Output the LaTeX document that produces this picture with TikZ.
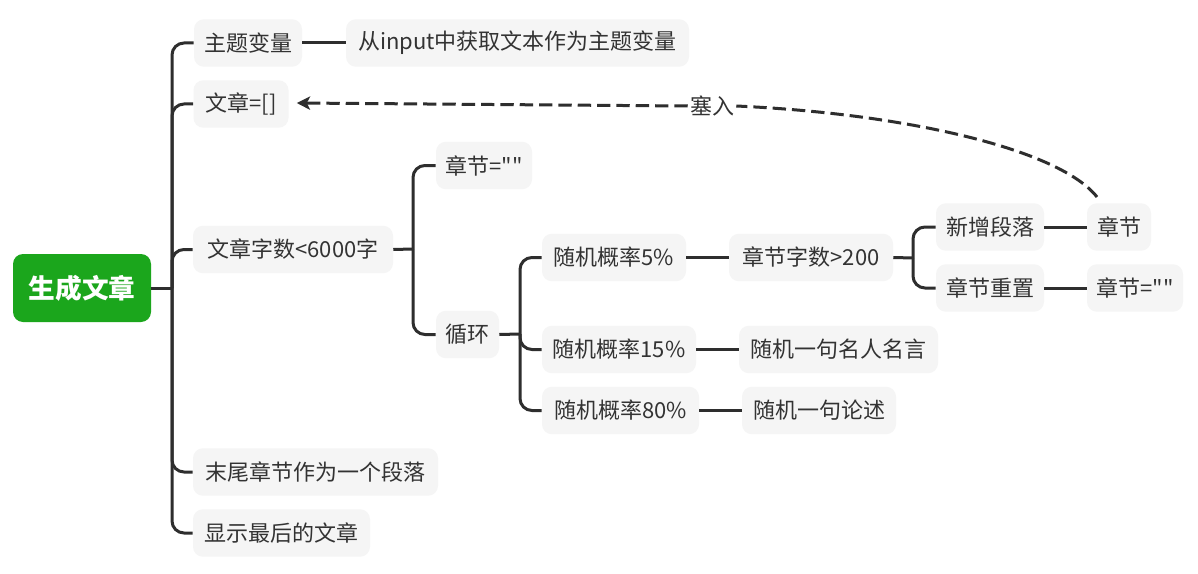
\documentclass[tikz,border=0pt]{standalone}
\usepackage{fontspec}
\newfontfamily\cjk{Noto Sans CJK SC}
\usetikzlibrary{calc,arrows.meta}
\definecolor{ln}{HTML}{2E2E2E}
\definecolor{bx}{HTML}{F5F5F5}
\definecolor{tx}{HTML}{333333}
\definecolor{gr}{HTML}{1BA61C}
\begin{document}
\begin{tikzpicture}[x=0.75pt,y=-0.75pt,
  box/.style={rectangle, rounded corners=7.5pt, fill=bx, text=tx, inner sep=0pt,
    minimum height=35.6pt, font=\cjk\fontsize{16.5}{20}\selectfont},
  bw/.style={minimum width=#1*0.75pt},
  rootbox/.style={rectangle, rounded corners=7.5pt, fill=gr, text=white, inner sep=0pt,
    font=\cjk\bfseries\fontsize{20}{24}\selectfont, minimum width=103.5pt, minimum height=51pt},
  conn/.style={draw=ln, line width=2.25pt},
  br/.style={conn, rounded corners=9pt},
  dsh/.style={draw=ln, line width=2.25pt, dash pattern=on 10pt off 4.5pt},
  lbl/.style={font=\cjk\fontsize{16.5}{20}\selectfont, text=tx, inner sep=1.5pt}
]
\useasboundingbox[fill=white] (0,0) rectangle (1198,574);

% nodes
\node[rootbox] (root) at (82,288) {生成文章};
\node[box,bw=108] (t1) at (248,43) {主题变量};
\node[box,bw=343] (t1c) at (517.5,43) {从input中获取文本作为主题变量};
\node[box,bw=95] (t2) at (241,104) {文章=[]};
\node[box,bw=200] (t3) at (293,249.5) {文章字数<6000字};
\node[box,bw=245] (t4) at (315.5,472) {末尾章节作为一个段落};
\node[box,bw=177] (t5) at (281.5,533) {显示最后的文章};
\node[box,bw=96] (c1) at (484,165.5) {章节=""};
\node[box,bw=63] (c2) at (467.5,334.5) {循环};
\node[box,bw=144] (r1) at (614,257.5) {随机概率5\%};
\node[box,bw=164] (r1c) at (811,257.5) {章节字数>200};
\node[box,bw=154] (r2) at (619,349.5) {随机概率15\%};
\node[box,bw=199] (r2c) at (838.5,349.5) {随机一句名人名言};
\node[box,bw=157] (r3) at (620.5,410.5) {随机概率80\%};
\node[box,bw=154] (r3c) at (819,410.5) {随机一句论述};
\node[box,bw=108] (s1) at (990,227) {新增段落};
\node[box,bw=108] (s2) at (990,288) {章节重置};
\node[box,bw=64] (s1c) at (1119,227) {章节};
\node[box,bw=96] (s2c) at (1135,288) {章节=""};
\node[lbl] (lab) at (712,106) {塞入};

% junctions
\coordinate (j0) at (172,288);
\coordinate (j1) at (413,249);
\coordinate (j2) at (520,334);
\coordinate (j3) at (913,258);

\draw[conn] (root.east) -- (j0);
\foreach \c in {t1,t2,t3,t4,t5} \draw[br] (j0) |- (\c.west);
\draw[conn] (t3.east) -- (j1);
\foreach \c in {c1,c2} \draw[br] (j1) |- (\c.west);
\draw[conn] (c2.east) -- (j2);
\foreach \c in {r1,r2,r3} \draw[br] (j2) |- (\c.west);
\draw[conn] (r1c.east) -- (j3);
\foreach \c in {s1,s2} \draw[br] (j3) |- (\c.west);

\draw[conn] (t1.east) -- (t1c.west);
\draw[conn] (r1.east) -- (r1c.west);
\draw[conn] (r2.east) -- (r2c.west);
\draw[conn] (r3.east) -- (r3c.west);
\draw[conn] (s1.east) -- (s1c.west);
\draw[conn] (s2.east) -- (s2c.west);

% dashed feedback arrow
\draw[dsh] ($(s1c.north)+(-22,-6)$) .. controls (1060,150) and (910,114) .. (lab.east);
\draw[dsh,-{Stealth[length=10pt,width=10pt,inset=2.5pt]}] (lab.west) -- ($(t2.east)+(8,-1)$);
\end{tikzpicture}
\end{document}
